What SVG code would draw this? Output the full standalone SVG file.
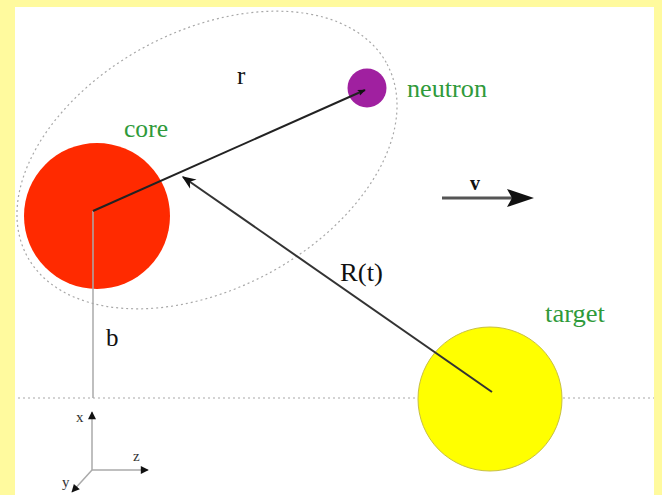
<svg xmlns="http://www.w3.org/2000/svg" width="662" height="495" viewBox="0 0 662 495">
<style>
.lbl{font-family:"Liberation Serif","Times New Roman",serif;font-size:25px;fill:#111}
.grn{font-family:"Liberation Serif","Times New Roman",serif;font-size:25px;fill:#2f9a3a}
.ax{font-family:"Liberation Serif","Times New Roman",serif;font-size:15px;fill:#333}
.dot{fill:none;stroke:#a8a8a8;stroke-width:1.2;stroke-dasharray:2 3}
</style>
<defs>
<marker id="ah" viewBox="0 0 10 10" refX="9" refY="5" markerWidth="8" markerHeight="8" orient="auto" markerUnits="userSpaceOnUse">
<path d="M0,1 L10,5 L0,9 L2,5 Z" fill="#111"/>
</marker>
<marker id="ahR" viewBox="0 0 10 10" refX="9" refY="5" markerWidth="14" markerHeight="14" orient="auto" markerUnits="userSpaceOnUse">
<path d="M0,1 L10,5 L0,9 L3,5 Z" fill="#111"/>
</marker>
<marker id="ahS" viewBox="0 0 10 10" refX="9" refY="5" markerWidth="9" markerHeight="8" orient="auto" markerUnits="userSpaceOnUse">
<path d="M0,0 L10,5 L0,10 Z" fill="#111"/>
</marker>
</defs>
<rect x="0" y="0" width="662" height="495" fill="#fffa9e"/>
<rect x="15" y="7" width="639" height="488" fill="#ffffff"/>

<g id="orbit">
<ellipse class="dot" cx="207" cy="160" rx="204" ry="129" transform="rotate(-28 207 160)"/>
</g>
<g id="baseline">
<line class="dot" x1="18" y1="398" x2="654" y2="398"/>
</g>

<g id="core">
<circle cx="97" cy="216" r="73" fill="#ff2a00"/>
<text class="grn" x="124" y="137" textLength="44" lengthAdjust="spacingAndGlyphs">core</text>
</g>
<g id="neutron">
<circle cx="367" cy="88" r="19.5" fill="#a020a0"/>
<text class="grn" x="407" y="97" textLength="80" lengthAdjust="spacingAndGlyphs">neutron</text>
</g>
<g id="target">
<circle cx="490" cy="399" r="72" fill="#ffff00" stroke="#c8c040" stroke-width="1"/>
<text class="grn" x="545" y="322" textLength="60" lengthAdjust="spacingAndGlyphs">target</text>
</g>

<g id="connectors">
<line x1="93" y1="211" x2="93" y2="398" stroke="#aaaaaa" stroke-width="1.5"/>
<line x1="93" y1="211" x2="365" y2="90" stroke="#222" stroke-width="2" marker-end="url(#ah)"/>
<line x1="492" y1="392" x2="183" y2="177" stroke="#333" stroke-width="2" marker-end="url(#ahR)"/>
<line x1="442" y1="198" x2="514" y2="198" stroke="#555" stroke-width="3"/>
<path d="M507,189 L534,198 L507,207 L512,198 Z" fill="#111"/>
<line x1="92" y1="470" x2="92" y2="412" stroke="#aaaaaa" stroke-width="1.5" marker-end="url(#ahS)"/>
<line x1="92" y1="470" x2="148" y2="470" stroke="#aaaaaa" stroke-width="1.5" marker-end="url(#ahS)"/>
<line x1="92" y1="470" x2="72" y2="492" stroke="#aaaaaa" stroke-width="1.5" marker-end="url(#ahS)"/>
</g>

<g id="labels">
<text class="lbl" x="237" y="84">r</text>
<text class="lbl" x="340" y="281" textLength="43" lengthAdjust="spacingAndGlyphs">R(t)</text>
<text class="lbl" x="106" y="346">b</text>
<text x="470" y="190" style="font-family:'Liberation Serif',serif;font-size:20px;font-weight:bold;fill:#111">v</text>
<text class="ax" x="76" y="422">x</text>
<text class="ax" x="133" y="461">z</text>
<text class="ax" x="62" y="487">y</text>
</g>
</svg>
